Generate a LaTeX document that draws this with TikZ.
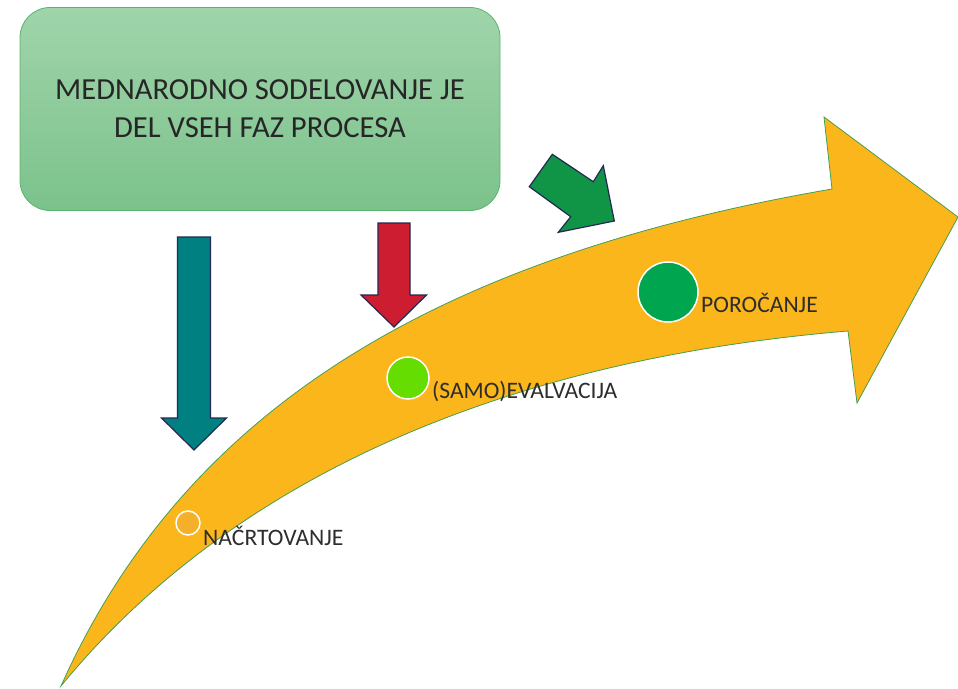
\documentclass[tikz,border=0pt]{standalone}
\usepackage{fontspec}
\setmainfont{Carlito}
\usepackage{xcolor}
\usetikzlibrary{positioning}
\definecolor{arrowgold}{RGB}{251,182,28}
\definecolor{arrowrim}{RGB}{70,158,80}
\definecolor{tealblock}{RGB}{0,128,128}
\definecolor{redblock}{RGB}{204,30,48}
\definecolor{greenblock}{RGB}{16,148,70}
\definecolor{navyrim}{RGB}{35,40,85}
\definecolor{boxtop}{RGB}{160,212,170}
\definecolor{boxbottom}{RGB}{124,194,140}
\definecolor{boxrim}{RGB}{90,180,110}
\definecolor{dotone}{RGB}{244,176,40}
\definecolor{dottwo}{RGB}{102,221,0}
\definecolor{dotthree}{RGB}{0,165,80}
\definecolor{labelgrey}{RGB}{45,45,45}

\begin{document}
\begin{tikzpicture}[
  x=1pt, y=-1pt,
  bigarrow/.style={fill=arrowgold, draw=arrowrim, line width=0.8pt},
  blockarrow/.style={draw=navyrim, line width=1.2pt, line join=miter},
  infobox/.style={rectangle, rounded corners=30pt, draw=boxrim, line width=0.8pt,
    top color=boxtop, bottom color=boxbottom, minimum width=480pt, minimum height=203pt,
    align=center, text=black!85, font=\fontsize{30.6}{38}\selectfont},
  dot/.style={circle, draw=white, line width=1.5pt, inner sep=0pt},
  lbl/.style={inner sep=0pt, anchor=base west, text=labelgrey, font=\fontsize{23.6}{28}\selectfont}
]
\useasboundingbox (0,0) rectangle (958,688);

% Big curved arrow
\draw[bigarrow] (61,686) .. controls (180,420) and (420,260) .. (832,189)
  -- (824,117) -- (958,217) -- (857,403) -- (848,331)
  .. controls (500,360) and (230,480) .. (61,686) -- cycle;

% Nodes
\node[infobox] (mednarodno) at (260,109) {MEDNARODNO SODELOVANJE JE\\DEL VSEH FAZ PROCESA};

\node[dot, fill=dotone, minimum size=24pt] (nacrt) at (188,523) {};
\node[dot, fill=dottwo, minimum size=42pt] (evalv) at (408,378) {};
\node[dot, fill=dotthree, minimum size=60pt] (poroc) at (668,292) {};

\node[lbl] (nacrtlbl) at ([shift={(15,22)}]nacrt.center) {NAČRTOVANJE};
\node[lbl] (evalvlbl) at ([shift={(24,20)}]evalv.center) {(SAMO)EVALVACIJA};
\node[lbl] (poroclbl) at ([shift={(33,20)}]poroc.center) {POROČANJE};

% Arrows
\draw[blockarrow, fill=tealblock] (177.5,237) -- (210.5,237) -- (210.5,418) -- (226.5,418)
  -- (194,450) -- (161.5,418) -- (177.5,418) -- cycle;
\draw[blockarrow, fill=redblock] (378,223) -- (410,223) -- (410,295) -- (426.5,295)
  -- (394,327) -- (361,295) -- (378,295) -- cycle;
\draw[blockarrow, fill=greenblock] (552.3,154.3) -- (593.3,181.7) -- (603.3,165.7)
  -- (614.3,221) -- (558.3,232.3) -- (570.7,216.7) -- (529.3,186.7) -- cycle;

\end{tikzpicture}
\end{document}
